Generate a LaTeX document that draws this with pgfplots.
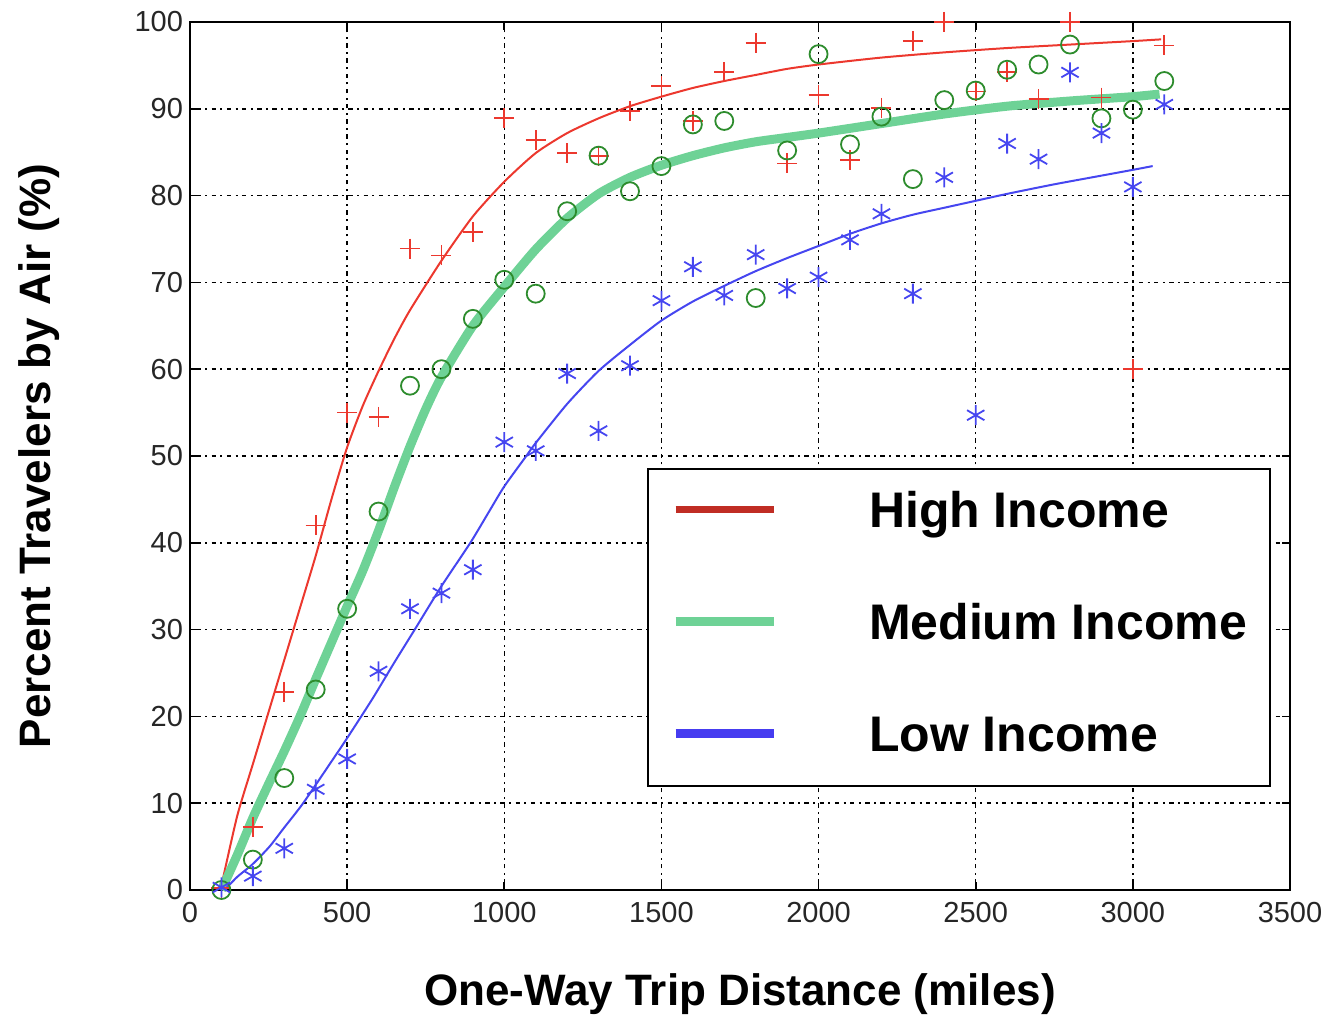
\documentclass[border=0pt]{standalone}
\usepackage{fontspec}
\setmainfont{Liberation Sans}
\usepackage{pgfplots}
\pgfplotsset{compat=1.18}
\definecolor{mred}{RGB}{236,56,46}
\definecolor{mgreenc}{RGB}{110,210,150}
\definecolor{mgreenm}{RGB}{45,140,45}
\definecolor{mblue}{RGB}{70,70,240}
\definecolor{lred}{RGB}{192,45,36}
\definecolor{lblue}{RGB}{70,60,240}
\begin{document}
\begin{tikzpicture}
\begin{axis}[name=ax,
  scale only axis, width=550pt, height=434pt,
  xmin=0, xmax=3500, ymin=0, ymax=100,
  xtick={0,500,...,3500}, ytick={0,10,...,100},
  scaled ticks=false,
  /pgf/number format/1000 sep={},
  /pgf/number format/assume math mode=true,
  tick label style={font=\fontsize{14.5}{16}\selectfont, text=black!85},
  xticklabel style={yshift=-2.5pt},
  tick align=inside, major tick length=4pt,
  tick style={black, line width=0.8pt},
  axis line style={black, line width=1pt},
  grid=major,
  major grid style={black, line width=0.75pt, dash pattern=on 1pt off 2.2pt on 2.2pt off 2.2pt},
  clip=false,
  xlabel={One-Way Trip Distance (miles)},
  ylabel={Percent Travelers by Air (\%)},
  xlabel style={at={(axis description cs:0.5,-0.1325)}, anchor=base, font=\fontsize{22}{26}\selectfont\bfseries},
  ylabel style={at={(axis description cs:-0.1264,0.5)}, anchor=base, rotate=0, font=\fontsize{22}{26}\selectfont\bfseries},
  legend image code/.code={\draw[#1] (0pt,3pt) -- (49pt,3pt);},
  legend cell align=left,
  legend style={at={(axis description cs:0.4155,0.4862)}, anchor=north west,
    draw=black, line width=1pt, fill=white,
    inner xsep=11.5pt, inner ysep=11.5pt, row sep=31.85pt,
    font=\fontsize{25}{30}\selectfont\bfseries,
    nodes={inner sep=0pt, text height=18pt, text depth=6pt},
    /tikz/every odd column/.append style={column sep=45.5pt}},
]
% fitted curves
\addplot[forget plot, mred, line width=1pt, smooth, tension=0.4] coordinates {
(100,0.5) (150,8.5) (200,14.5) (250,20.5) (300,26.5) (350,32.5) (400,38.5) (450,45)
(500,51) (550,55.8) (600,59.8) (650,63.5) (700,66.8) (800,72.5) (900,77.6) (1000,81.6) (1100,84.9)
(1200,87.2) (1300,88.9) (1400,90.3) (1500,91.4) (1600,92.4) (1700,93.2) (1800,93.9)
(1900,94.6) (2000,95.1) (2200,95.9) (2400,96.5) (2600,97) (2800,97.4) (3000,97.8) (3090,98)};
\addplot[forget plot, mgreenc, line width=4.5pt, smooth, tension=0.4] coordinates {
(100,0) (150,4) (200,8.3) (250,12.2) (300,16) (350,20) (400,24.3) (450,28.5) (500,32.7)
(550,36.8) (600,41.4) (650,46.4) (700,51.1) (750,55.4) (800,59.1) (900,65) (1000,69.5)
(1100,73.8) (1200,77.4) (1300,80.2) (1400,82.1) (1500,83.5) (1600,84.6) (1700,85.5)
(1800,86.2) (1900,86.7) (2000,87.2) (2200,88.3) (2400,89.4) (2600,90.3) (2800,90.9)
(3000,91.4) (3085,91.7)};
\addplot[forget plot, mblue, line width=1pt, smooth, tension=0.4] coordinates {
(110,0) (150,1.5) (200,3) (253,5) (300,7.2) (360,10) (450,14.8) (500,17.5) (580,22)
(650,26.2) (715,30) (800,35) (892,40) (950,43.5) (1000,46.5) (1070,50) (1100,51.5)
(1200,56) (1300,59.8) (1400,62.8) (1500,65.6) (1600,67.8) (1700,69.6) (1800,71.3)
(1900,72.8) (2000,74.2) (2100,75.6) (2200,76.8) (2300,77.8) (2400,78.6) (2500,79.4)
(2600,80.2) (2750,81.3) (2900,82.3) (3005,83) (3063,83.4)};
% data
\addplot[forget plot, only marks, mark=+, mark size=5pt, mred, line width=0.9pt] coordinates {
(100,0.2) (200,7.3) (300,22.8) (400,42) (500,55) (600,54.5) (700,73.9) (800,73.1)
(900,75.8) (1000,88.9) (1100,86.4) (1200,84.9) (1300,84.6) (1400,89.7) (1500,92.6)
(1600,88.6) (1700,94.2) (1800,97.6) (1900,83.7) (2000,91.6) (2100,84.1) (2200,90.1)
(2300,97.8) (2400,100) (2500,92) (2600,94.2) (2700,91.1) (2800,100) (2900,91.3)
(3000,60) (3100,97.3)};
\addplot[forget plot, only marks, mark=o, mark size=4.5pt, mgreenm, line width=0.9pt] coordinates {
(100,0) (200,3.5) (300,12.9) (400,23.1) (500,32.4) (600,43.6) (700,58.1) (800,60)
(900,65.8) (1000,70.3) (1100,68.7) (1200,78.2) (1300,84.6) (1400,80.5) (1500,83.4)
(1600,88.2) (1700,88.6) (1800,68.2) (1900,85.2) (2000,96.3) (2100,85.9) (2200,89.1)
(2300,81.9) (2400,91) (2500,92.1) (2600,94.5) (2700,95.1) (2800,97.4) (2900,88.9)
(3000,89.9) (3100,93.2)};
\addplot[forget plot, only marks, mark=asterisk, mark size=5pt, mblue, line width=0.9pt] coordinates {
(100,0.3) (200,1.6) (300,4.8) (400,11.6) (500,15.1) (600,25.2) (700,32.4) (800,34.2)
(900,36.9) (1000,51.6) (1100,50.6) (1200,59.5) (1300,52.9) (1400,60.4) (1500,67.9)
(1600,71.8) (1700,68.5) (1800,73.2) (1900,69.3) (2000,70.6) (2100,74.9) (2200,77.9)
(2300,68.7) (2400,82.1) (2500,54.7) (2600,86) (2700,84.2) (2800,94.2) (2900,87.2)
(3000,81) (3100,90.5)};
\addlegendimage{lred, line width=3.5pt}
\addlegendentry{High Income}
\addlegendimage{mgreenc, line width=4.5pt}
\addlegendentry{Medium Income}
\addlegendimage{lblue, line width=4.5pt}
\addlegendentry{Low Income}
\end{axis}
\pgfresetboundingbox
\path ([shift={(-95pt,-64pt)}]ax.south west) rectangle ++(664pt,509pt);
\end{tikzpicture}
\end{document}
